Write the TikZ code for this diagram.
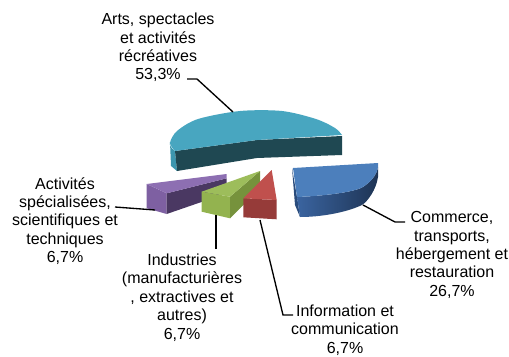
\documentclass[tikz,border=0pt]{standalone}
\usepackage{fontspec}
\setmainfont{Liberation Sans}
\begin{document}
\begin{tikzpicture}[x=0.75pt,y=-0.75pt,
  lbl/.style={align=center,inner sep=0pt,font=\fontsize{12}{13.8}\selectfont},
  leader/.style={draw=black,line width=1pt},
  face/.style={draw=none}]
\definecolor{tealtop}{HTML}{48A6C0}
\definecolor{tealside}{HTML}{1F4852}
\definecolor{tealrim}{HTML}{3C96AE}
\definecolor{bluetop}{HTML}{4C7FBC}
\definecolor{bluesideL}{HTML}{3A64A0}
\definecolor{bluesideR}{HTML}{1E3454}
\definecolor{bluecut}{HTML}{2A4C7C}
\definecolor{purptop}{HTML}{8D6FB2}
\definecolor{purpleft}{HTML}{7E60A2}
\definecolor{purpfront}{HTML}{4A3862}
\definecolor{greentop}{HTML}{9DBD5B}
\definecolor{greenleft}{HTML}{93B34F}
\definecolor{greenright}{HTML}{76923C}
\definecolor{redtop}{HTML}{C0504D}
\definecolor{redfront}{HTML}{963B39}
\useasboundingbox (0,0) rectangle (509,356);
% ---- Arts (teal) ----
\fill[tealrim] (175,151) .. controls (171,148) and (169,145) .. (170,142) -- (171,166) -- (177,171) -- cycle;
\fill[tealside] (175,151) -- (257,140) -- (342,136) -- (342,155) -- (257,158) -- (177,171) -- cycle;
\fill[tealtop] plot[smooth] coordinates {(175,151) (170,143) (177,131) (198,119) (240,111) (282,111) (316,119) (335,128) (342,135)} -- (257,140) -- cycle;
% ---- Commerce (blue) ----
\fill[bluecut] (292,168) -- (297,197) -- (300,217) -- (295,205) -- cycle;
\shade[left color=bluesideL,right color=bluesideR] (297,197) .. controls (320,196) and (352,193) .. (363,187) .. controls (372,181) and (377,174) .. (378,167) -- (378,177) .. controls (376,190) and (368,201) .. (362,205) .. controls (345,213) and (320,217) .. (300,217) -- cycle;
\fill[bluetop] (293,168) -- (378,163) -- (378,167) .. controls (377,174) and (372,181) .. (363,187) .. controls (352,193) and (320,196) .. (297,197) -- cycle;
% ---- Activites (purple) ----
\fill[purpleft] (146.7,184) -- (166.7,193.3) -- (166.7,214) -- (146.7,208.3) -- cycle;
\fill[purpfront] (166.7,193.3) -- (226.7,178.3) -- (226.7,193.3) -- (166.7,214) -- cycle;
\fill[purptop] (146.7,184) -- (226.7,174) -- (226.7,178.3) -- (166.7,193.3) -- cycle;
% ---- Industries (green) ----
\fill[greenleft] (201.7,191.7) -- (230,196.7) -- (230,218.3) -- (201.7,211.7) -- cycle;
\fill[greenright] (230,196.7) -- (260,171) -- (260,188.3) -- (230,218.3) -- cycle;
\fill[greentop] (201.7,191.7) -- (260,171) -- (230,196.7) -- cycle;
% ---- Information (red) ----
\fill[redfront] (243.3,198.3) -- (276.7,200) -- (276.7,219.3) -- (243.3,217.3) -- cycle;
\fill[redtop] (243.3,198.3) -- (271.7,170) -- (276.7,200) -- cycle;
% ---- labels ----
\node[lbl] (arts) at (158,47.5) {Arts, spectacles\\et activités\\récréatives\\53,3\%};
\node[lbl] (activ) at (65,221) {Activités\\spécialisées,\\scientifiques et\\techniques\\6,7\%};
\node[lbl] (indus) at (182,297.5) {Industries\\(manufacturières\\, extractives et\\autres)\\6,7\%};
\node[lbl] (info) at (345,330) {Information et\\communication\\6,7\%};
\node[lbl] (comm) at (452,255) {Commerce,\\transports,\\hébergement et\\restauration\\26,7\%};
% ---- leader points ----
\coordinate (artsA) at (187,79);
\coordinate (artsB) at (197,79);
\coordinate (artsC) at (233,112);
\coordinate (activA) at (115,207);
\coordinate (activB) at (155,210);
\coordinate (indusA) at (216,249);
\coordinate (indusB) at (216,215);
\coordinate (infoA) at (293,315);
\coordinate (infoB) at (283,315);
\coordinate (infoC) at (260,220);
\coordinate (commA) at (405,222);
\coordinate (commB) at (395,222);
\coordinate (commC) at (363,205);
\draw[leader] (artsA) -- (artsB) -- (artsC);
\draw[leader] (activA) -- (activB);
\draw[leader] (indusA) -- (indusB);
\draw[leader] (infoA) -- (infoB) -- (infoC);
\draw[leader] (commA) -- (commB) -- (commC);
\end{tikzpicture}
\end{document}
